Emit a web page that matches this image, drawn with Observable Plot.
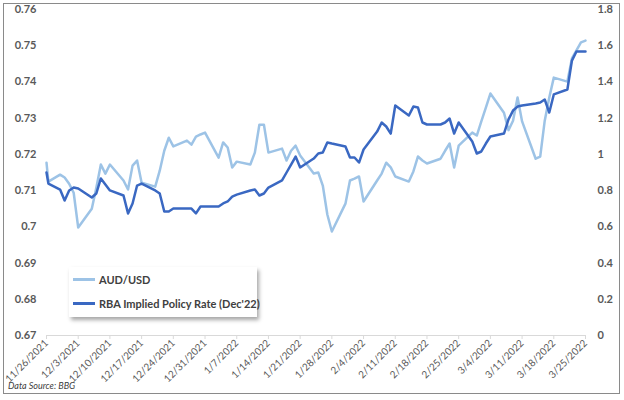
<!DOCTYPE html>
<html>
<head>
<meta charset="utf-8">
<script src="https://cdn.jsdelivr.net/npm/d3@7"></script>
<script src="https://cdn.jsdelivr.net/npm/@observablehq/plot@0.6"></script>
<style>
  html, body { margin: 0; padding: 0; background: #fff; }
  #wrap { position: relative; width: 624px; height: 400px; overflow: hidden; font-family: Lato, "Open Sans", sans-serif; }
  #border { position: absolute; left: 3px; top: 3px; width: 615px; height: 389px; border: 1.5px solid #8a8a8a; pointer-events: none; }
  #legend { position: absolute; left: 69px; top: 267px; width: 188px; height: 50px; background: #fff;
            box-shadow: 2px 3px 4px rgba(0,0,0,0.35); font-weight: 700; font-size: 11px; color: #404040; }
  .item { position: absolute; left: 4px; display: flex; align-items: center; white-space: nowrap; }
  .sw { width: 22px; height: 3px; margin-right: 4px; }
  #source { position: absolute; left: 8px; top: 380px; font-size: 9px; font-style: italic; color: #404040; }
</style>
</head>
<body>
<div id="wrap">
  <div id="chart"></div>
  <div id="border"></div>
  <div id="legend"></div>
  <div id="source">Data Source: BBG</div>
</div>
<script>
// ---- Data ----
const audDates = [
  "2021-11-26T00:00","2021-11-26T10:00","2021-11-29","2021-11-30","2021-12-01","2021-12-02","2021-12-03",
  "2021-12-06","2021-12-07","2021-12-08","2021-12-09","2021-12-10",
  "2021-12-13","2021-12-14","2021-12-15","2021-12-16","2021-12-17",
  "2021-12-20","2021-12-21","2021-12-22","2021-12-23","2021-12-24",
  "2021-12-27","2021-12-28","2021-12-29","2021-12-30","2021-12-31",
  "2022-01-03","2022-01-04","2022-01-05","2022-01-06","2022-01-07",
  "2022-01-10","2022-01-11","2022-01-12","2022-01-13","2022-01-14",
  "2022-01-17","2022-01-18","2022-01-19","2022-01-20","2022-01-21",
  "2022-01-24","2022-01-25","2022-01-26","2022-01-27","2022-01-28",
  "2022-01-31","2022-02-01","2022-02-02","2022-02-03","2022-02-04",
  "2022-02-07","2022-02-08","2022-02-09","2022-02-10","2022-02-11",
  "2022-02-14","2022-02-15","2022-02-16","2022-02-17","2022-02-18",
  "2022-02-21","2022-02-22","2022-02-23","2022-02-24","2022-02-25",
  "2022-02-28","2022-03-01","2022-03-02","2022-03-03","2022-03-04",
  "2022-03-07","2022-03-08","2022-03-09","2022-03-10","2022-03-11",
  "2022-03-14","2022-03-15","2022-03-16","2022-03-17","2022-03-18",
  "2022-03-21","2022-03-22","2022-03-23","2022-03-24","2022-03-25"
];
const audUsd = [
  0.7177,0.7125,0.7144,0.7136,0.7119,0.7094,0.6998,
  0.7050,0.7108,0.7172,0.7147,0.7172,
  0.7128,0.7103,0.7169,0.7183,0.7122,
  0.7111,0.7155,0.7210,0.7246,0.7222,
  0.7238,0.7227,0.7249,0.7255,0.7260,
  0.7191,0.7233,0.7219,0.7164,0.7180,
  0.7172,0.7205,0.7282,0.7282,0.7205,
  0.7216,0.7183,0.7210,0.7224,0.7197,
  0.7147,0.7150,0.7114,0.7034,0.6987,
  0.7064,0.7128,0.7133,0.7139,0.7070,
  0.7128,0.7147,0.7177,0.7164,0.7139,
  0.7125,0.7153,0.7194,0.7183,0.7175,
  0.7188,0.7210,0.7230,0.7164,0.7224,
  0.7260,0.7252,0.7291,0.7329,0.7368,
  0.7315,0.7267,0.7293,0.7357,0.7291,
  0.7188,0.7194,0.7293,0.7357,0.7412,
  0.7401,0.7465,0.7487,0.7509,0.7514
];
const rbaDates = audDates;
const rbaRate = [
  0.900,0.839,0.806,0.745,0.801,0.817,0.812,
  0.762,0.784,0.867,0.834,0.801,
  0.773,0.674,0.729,0.828,0.839,
  0.801,0.784,0.685,0.685,0.701,
  0.701,0.701,0.674,0.712,0.712,
  0.712,0.729,0.740,0.767,0.778,
  0.801,0.806,0.773,0.784,0.817,
  0.856,0.900,0.944,0.988,0.928,
  0.977,1.005,1.010,1.066,1.060,
  1.044,0.983,0.983,0.955,1.027,
  1.126,1.176,1.154,1.115,1.270,
  1.215,1.264,1.259,1.176,1.165,
  1.165,1.176,1.198,1.115,1.176,
  1.071,1.005,1.016,1.060,1.099,
  1.115,1.193,1.242,1.264,1.270,
  1.281,1.286,1.303,1.231,1.331,
  1.358,1.518,1.568,1.568,1.568
];
const leftTicks = [0.67,0.68,0.69,0.70,0.71,0.72,0.73,0.74,0.75,0.76];
const rightTicks = [0,0.2,0.4,0.6,0.8,1.0,1.2,1.4,1.6,1.8];
const xTickLabels = ["11/26/2021","12/3/2021","12/10/2021","12/17/2021","12/24/2021","12/31/2021",
  "1/7/2022","1/14/2022","1/21/2022","1/28/2022","2/4/2022","2/11/2022","2/18/2022","2/25/2022",
  "3/4/2022","3/11/2022","3/18/2022","3/25/2022"];
const seriesNames = ["AUD/USD","RBA Implied Policy Rate (Dec'22)"];
const seriesColors = ["#9dc3e6","#3a68c2"];

// ---- Scales helpers ----
const L0 = 0.67, L1 = 0.76, R0 = 0, R1 = 1.8;
const toLeft = v => L0 + (v - R0) / (R1 - R0) * (L1 - L0);
const parseD = s => new Date(s.length > 10 ? s + "Z" : s + "T00:00Z");
const parseTick = s => { const [m, d, y] = s.split("/").map(Number); return new Date(Date.UTC(y, m - 1, d)); };
const xTicks = xTickLabels.map(parseTick);
const fmtNum = v => String(+v.toFixed(2));

const aud = audDates.map((d, i) => ({date: parseD(d), v: audUsd[i]}));
const rba = rbaDates.map((d, i) => ({date: parseD(d), v: rbaRate[i]}));

const chart = Plot.plot({
  width: 624,
  height: 400,
  marginLeft: 46,
  marginRight: 39,
  marginTop: 9,
  marginBottom: 65,
  style: {fontFamily: "Lato, 'Open Sans', sans-serif", background: "transparent"},
  x: {type: "utc", domain: [xTicks[0], xTicks[xTicks.length - 1]]},
  y: {domain: [L0, L1]},
  marks: [
    Plot.ruleY([L0], {stroke: "#d9d9d9", strokeWidth: 1}),
    Plot.axisX({ticks: xTicks, tickFormat: (d, i) => xTickLabels[i], tickRotate: -45,
      tickSize: 4, stroke: "#d9d9d9", color: "#595959", fontSize: 10, tickPadding: 2, label: null}),
    Plot.axisY({ticks: leftTicks, anchor: "left", tickSize: 0, tickPadding: 10,
      tickFormat: fmtNum, fontSize: 11, fontWeight: 700, fill: "#595959", label: null}),
    Plot.axisY({ticks: rightTicks.map(toLeft), anchor: "right", tickSize: 0, tickPadding: 12,
      tickFormat: d => fmtNum((d - L0) / (L1 - L0) * (R1 - R0) + R0), fontSize: 11, fontWeight: 700,
      fill: "#595959", label: null}),
    Plot.lineY(aud, {x: "date", y: "v", stroke: seriesColors[0], strokeWidth: 2.5, strokeLinejoin: "round"}),
    Plot.lineY(rba, {x: "date", y: d => toLeft(d.v), stroke: seriesColors[1], strokeWidth: 2.5, strokeLinejoin: "round"})
  ]
});
document.getElementById("chart").appendChild(chart);

const leg = document.getElementById("legend");
seriesNames.forEach((n, i) => {
  const it = document.createElement("div");
  it.className = "item";
  it.style.top = (i === 0 ? 6 : 30) + "px";
  it.innerHTML = `<span class="sw" style="background:${seriesColors[i]}"></span><span>${n}</span>`;
  leg.appendChild(it);
});
</script>
</body>
</html>
